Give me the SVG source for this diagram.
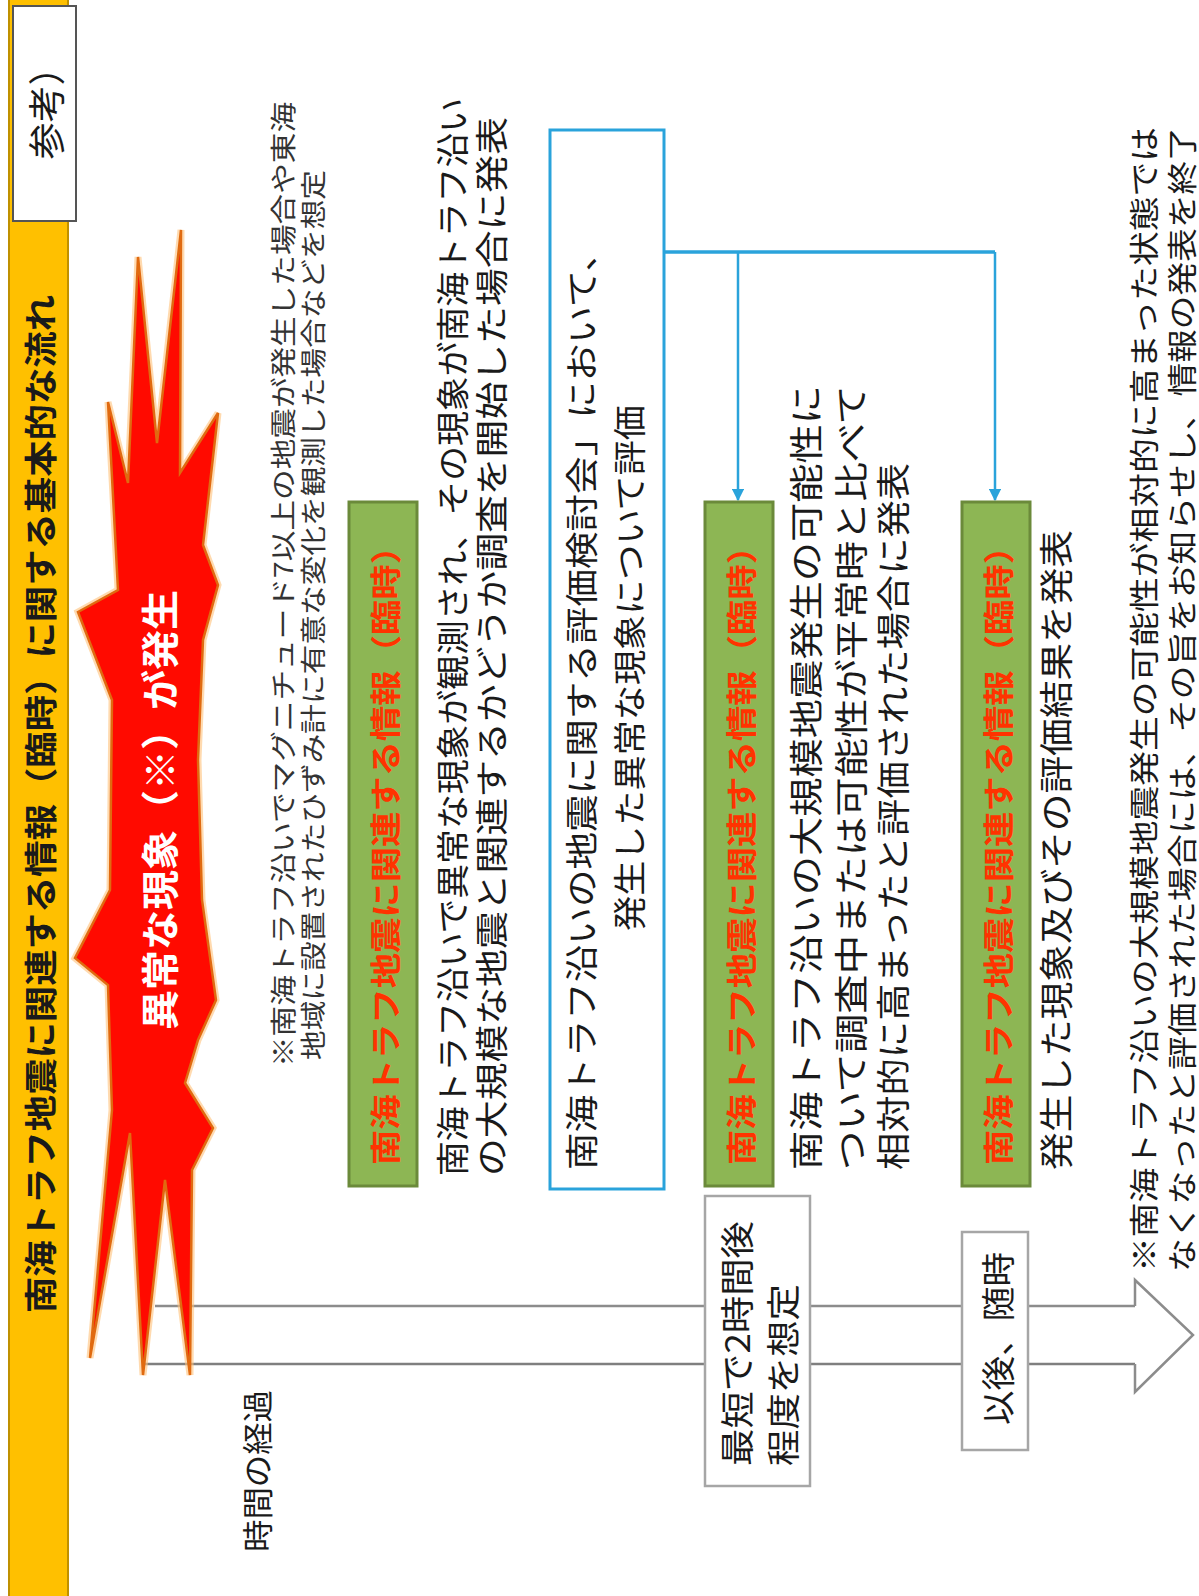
<svg xmlns="http://www.w3.org/2000/svg" width="1199" height="1596" viewBox="0 0 1199 1596">
<defs>
<style>
text{font-family:"Noto Sans CJK JP","Noto Sans CJK SC",sans-serif;dominant-baseline:central;}
.body{fill:#1a1a1a;}
.note{fill:#333;}
.hdr{fill:#FF3300;font-weight:700;}
.gbox{fill:#8DB654;stroke:#6B8A3A;stroke-width:3;}
.tbox{fill:#fff;stroke:#A6A6A6;stroke-width:2.5;}
.blue{fill:none;stroke:#2AA3DB;}
</style>
<marker id="ah" viewBox="0 0 10 10" refX="9" refY="5" markerWidth="5" markerHeight="5" orient="auto"><path d="M0,0 L10,5 L0,10 z" fill="#2AA3DB"/></marker>
</defs>
<rect width="1199" height="1596" fill="#fff"/>

<g id="title-bar">
<rect x="9" y="-2" width="59" height="1600" fill="#FFC000" stroke="#BF9000" stroke-width="2"/>
<text transform="translate(39,1313) rotate(-90)" font-size="33" font-weight="700" fill="#1a1a1a" textLength="1018" lengthAdjust="spacingAndGlyphs">南海トラフ地震に関連する情報（臨時）に関する基本的な流れ</text>
</g>

<g id="ref-tag">
<rect x="13" y="6" width="63" height="215" fill="#fff" stroke="#555" stroke-width="2"/>
<text transform="translate(45,104) rotate(-90)" font-size="37" text-anchor="middle" fill="#1a1a1a">参考）</text>
</g>

<g id="connectors">
<line x1="155" y1="1306" x2="1135" y2="1306" stroke="#8C8C8C" stroke-width="2.5"/>
<line x1="142" y1="1364" x2="1135" y2="1364" stroke="#7F7F7F" stroke-width="2.5"/>
<path d="M1135,1306 L1135,1280 L1193,1335 L1135,1392 L1135,1364" fill="#fff" stroke="#8C8C8C" stroke-width="2.5" stroke-linejoin="miter"/>
<path class="blue" d="M664,252 L995,252" stroke-width="3.5"/>
<path class="blue" d="M738,252 L738,500" stroke-width="2.5" marker-end="url(#ah)"/>
<path class="blue" d="M995,252 L995,500" stroke-width="2.5" marker-end="url(#ah)"/>
</g>

<g id="event">
<path d="M181,230 L180,473 L218,413 L203,545 L218,585 L203,640 L198,760 L202,900 L216,1000 L198,1040 L185,1083 L213,1128 L192,1170 L190,1375 L165,1180 L143,1375 L130,1133 L90,1358 L112,1110 L108,985 L75,958 L110,890 L112,700 L78,612 L118,590 L108,402 L128,483 L138,257 L157,443 Z" fill="none" stroke="#FFC27A" stroke-width="7" stroke-linejoin="miter" opacity="0.6"/>
<path d="M181,230 L180,473 L218,413 L203,545 L218,585 L203,640 L198,760 L202,900 L216,1000 L198,1040 L185,1083 L213,1128 L192,1170 L190,1375 L165,1180 L143,1375 L130,1133 L90,1358 L112,1110 L108,985 L75,958 L110,890 L112,700 L78,612 L118,590 L108,402 L128,483 L138,257 L157,443 Z" fill="#FF0A00" stroke="#E06A10" stroke-width="2.5" stroke-linejoin="miter"/>
<text transform="translate(157,1030) rotate(-90)" font-size="38" font-weight="700" fill="#fff" textLength="440" lengthAdjust="spacingAndGlyphs">異常な現象（※）が発生</text>
</g>

<g id="event-note">
<text class="note" transform="translate(281,1067) rotate(-90)" font-size="26" textLength="965" lengthAdjust="spacingAndGlyphs">※南海トラフ沿いでマグニチュード7以上の地震が発生した場合や東海</text>
<text class="note" transform="translate(311,1060) rotate(-90)" font-size="26" textLength="890" lengthAdjust="spacingAndGlyphs">地域に設置されたひずみ計に有意な変化を観測した場合などを想定</text>
</g>

<g id="info-a">
<rect class="gbox" x="349" y="502" width="68" height="684"/>
<text class="hdr" transform="translate(383,1165) rotate(-90)" font-size="31" textLength="636" lengthAdjust="spacingAndGlyphs">南海トラフ地震に関連する情報（臨時）</text>
<text class="body" transform="translate(451,1176) rotate(-90)" font-size="33" textLength="1078" lengthAdjust="spacingAndGlyphs">南海トラフ沿いで異常な現象が観測され、その現象が南海トラフ沿い</text>
<text class="body" transform="translate(490,1176) rotate(-90)" font-size="33" textLength="1059" lengthAdjust="spacingAndGlyphs">の大規模な地震と関連するかどうか調査を開始した場合に発表</text>
</g>

<g id="evaluation">
<rect x="550" y="130" width="114" height="1059" fill="#fff" stroke="#2AA3DB" stroke-width="3"/>
<text class="body" transform="translate(580,1170) rotate(-90)" font-size="33" textLength="936" lengthAdjust="spacingAndGlyphs">南海トラフ沿いの地震に関する評価検討会」において、</text>
<text class="body" transform="translate(628,931) rotate(-90)" font-size="33" textLength="526" lengthAdjust="spacingAndGlyphs">発生した異常な現象について評価</text>
</g>

<g id="info-b">
<rect class="gbox" x="705" y="502" width="68" height="684"/>
<text class="hdr" transform="translate(739,1165) rotate(-90)" font-size="31" textLength="636" lengthAdjust="spacingAndGlyphs">南海トラフ地震に関連する情報（臨時）</text>
<text class="body" transform="translate(804,1170) rotate(-90)" font-size="34" textLength="785" lengthAdjust="spacingAndGlyphs">南海トラフ沿いの大規模地震発生の可能性に</text>
<text class="body" transform="translate(849,1170) rotate(-90)" font-size="34" textLength="785" lengthAdjust="spacingAndGlyphs">ついて調査中または可能性が平常時と比べて</text>
<text class="body" transform="translate(891,1170) rotate(-90)" font-size="34" textLength="707" lengthAdjust="spacingAndGlyphs">相対的に高まったと評価された場合に発表</text>
</g>

<g id="info-c">
<rect class="gbox" x="962" y="502" width="68" height="684"/>
<text class="hdr" transform="translate(996,1165) rotate(-90)" font-size="31" textLength="636" lengthAdjust="spacingAndGlyphs">南海トラフ地震に関連する情報（臨時）</text>
<text class="body" transform="translate(1054,1170) rotate(-90)" font-size="34" textLength="640" lengthAdjust="spacingAndGlyphs">発生した現象及びその評価結果を発表</text>
</g>

<g id="end-note">
<text class="body" transform="translate(1142,1272) rotate(-90)" font-size="30" textLength="1145" lengthAdjust="spacingAndGlyphs">※南海トラフ沿いの大規模地震発生の可能性が相対的に高まった状態では</text>
<text class="body" transform="translate(1180,1272) rotate(-90)" font-size="30" textLength="1145" lengthAdjust="spacingAndGlyphs">なくなったと評価された場合には、その旨をお知らせし、情報の発表を終了</text>
</g>

<g id="time-label">
<text class="body" transform="translate(255,1552) rotate(-90)" font-size="31" textLength="162" lengthAdjust="spacingAndGlyphs">時間の経過</text>
</g>

<g id="time-2h">
<rect class="tbox" x="705" y="1196" width="105" height="290"/>
<text class="body" transform="translate(735,1466) rotate(-90)" font-size="34" textLength="245" lengthAdjust="spacingAndGlyphs">最短で2時間後</text>
<text class="body" transform="translate(781,1466) rotate(-90)" font-size="34" textLength="182" lengthAdjust="spacingAndGlyphs">程度を想定</text>
</g>

<g id="time-later">
<rect class="tbox" x="962" y="1232" width="66" height="218"/>
<text class="body" transform="translate(996,1425) rotate(-90)" font-size="34" textLength="173" lengthAdjust="spacingAndGlyphs">以後、随時</text>
</g>
</svg>
